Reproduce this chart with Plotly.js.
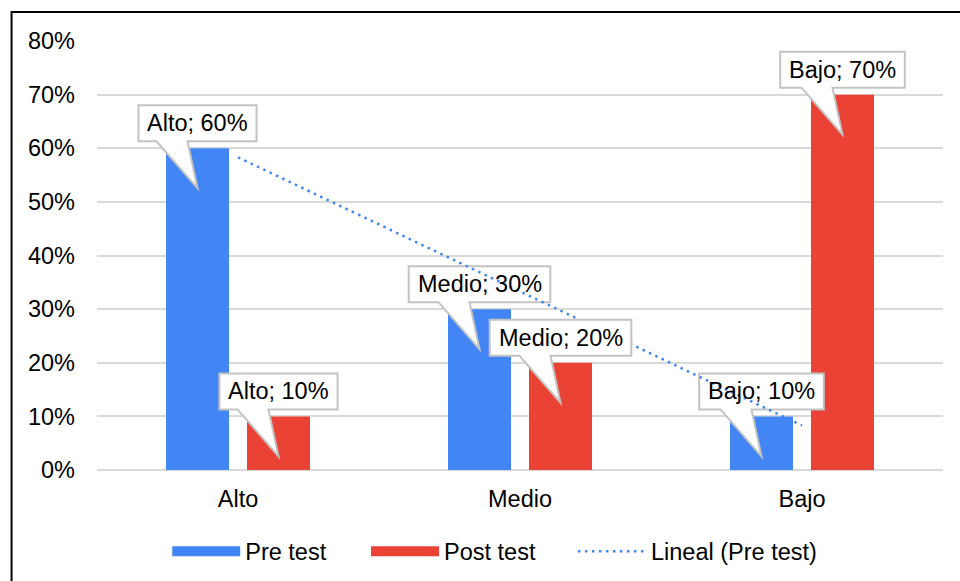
<!DOCTYPE html>
<html><head><meta charset="utf-8">
<script src="https://cdn.plot.ly/plotly-3.0.1.min.js"></script>
<style>html,body{margin:0;padding:0;background:#fff}#chart{width:960px;height:581px}</style>
</head><body><div id="chart"></div>
<script>
// ---- data ----
const categories = ['Alto', 'Medio', 'Bajo'];
const preTest = [0.60, 0.30, 0.10];
const postTest = [0.10, 0.20, 0.70];
const trendPre = [0.583, 0.333, 0.083];   // linear trend of Pre test
const seriesNames = ['Pre test', 'Post test', 'Lineal (Pre test)'];

// ---- styles ----
const BLUE = '#4285F4', RED = '#EA4335';
const FONT = 'Arial, "Liberation Sans", sans-serif';
const FS = 23.5;
const BARGAP = 0.4255, GROUPGAP = 0.222;
const OFF = (1 - BARGAP) / 4;
const xIdx = categories.map((c, i) => i);

const ctx = document.createElement('canvas').getContext('2d');
ctx.font = FS + 'px "Liberation Sans", Arial, sans-serif';
const tw = s => ctx.measureText(s).width;

const shapes = [];
const annotations = [];

// outer frame
shapes.push({type: 'rect', xref: 'paper', yref: 'paper', x0: -0.101, x1: 1.2, y0: -0.6, y1: 1.0676,
  line: {color: '#000', width: 2}, fillcolor: 'rgba(0,0,0,0)', layer: 'above'});

function callout(xc, v, text) {
  const h = (tw(text) + 17.5) / 2;
  const yb = 7, yt = 43, tipY = -40;
  const path = `M${-h},${yt} L${h},${yt} L${h},${yb} L-10,${yb} L0,${tipY} L-41,${yb} L${-h},${yb} Z`;
  shapes.push({type: 'path', xref: 'x', yref: 'y', xsizemode: 'pixel', ysizemode: 'pixel',
    xanchor: xc, yanchor: v, path: path, fillcolor: '#ffffff',
    line: {color: '#c3c3c3', width: 2}, layer: 'above'});
  annotations.push({x: xc, y: v, xref: 'x', yref: 'y', yshift: 25, text: text, showarrow: false,
    xanchor: 'center', yanchor: 'middle', font: {family: FONT, size: FS, color: '#000'}});
}
const pct = v => Math.round(v * 100) + '%';

preTest.forEach((v, i) => callout(xIdx[i] - OFF, v, categories[i] + '; ' + pct(v)));
shapes.push({type: 'line', xref: 'x', yref: 'y',
  x0: xIdx[0], y0: trendPre[0], x1: xIdx[xIdx.length - 1], y1: trendPre[trendPre.length - 1],
  line: {color: BLUE, width: 2.5, dash: '2.5px,4.5px'}, layer: 'above'});
postTest.forEach((v, i) => callout(xIdx[i] + OFF, v, categories[i] + '; ' + pct(v)));

const traces = [
  {type: 'bar', x: xIdx, y: preTest, name: seriesNames[0], marker: {color: BLUE}, showlegend: false, hoverinfo: 'y'},
  {type: 'bar', x: xIdx, y: postTest, name: seriesNames[1], marker: {color: RED}, showlegend: false, hoverinfo: 'y'},
  {type: 'scatter', mode: 'lines', x: [null], y: [null], name: seriesNames[0], legend: 'legend', line: {color: BLUE, width: 12.5}},
  {type: 'scatter', mode: 'lines', x: [null], y: [null], name: seriesNames[1], legend: 'legend2', line: {color: RED, width: 12.5}},
  {type: 'scatter', mode: 'lines', x: [null], y: [null], name: seriesNames[2], legend: 'legend3', line: {color: BLUE, width: 2.5, dash: '2.5px,4.5px'}}
];

const legendBase = {orientation: 'h', xanchor: 'left', y: -0.19, yanchor: 'middle', itemwidth: 68,
  font: {family: FONT, size: FS, color: '#000'}, bgcolor: 'rgba(0,0,0,0)'};

const layout = {
  width: 960, height: 581,
  margin: {l: 97, r: 17, t: 41, b: 111, autoexpand: false},
  paper_bgcolor: '#fff', plot_bgcolor: '#fff',
  font: {family: FONT, size: FS, color: '#000'},
  barmode: 'group', bargap: BARGAP, bargroupgap: GROUPGAP,
  xaxis: {range: [-0.5, 2.5], tickmode: 'array', tickvals: xIdx, ticktext: categories,
    showgrid: false, zeroline: false, showline: false, ticks: '', fixedrange: true,
    ticklabelstandoff: 12, tickfont: {family: FONT, size: FS, color: '#000'}},
  yaxis: {range: [0, 0.8], dtick: 0.1, tickformat: '.0%', showgrid: true, gridcolor: '#d9d9d9', gridwidth: 2,
    zeroline: true, zerolinecolor: '#d9d9d9', zerolinewidth: 2, showline: false, ticks: '',
    ticklabelstandoff: 21, fixedrange: true, tickfont: {family: FONT, size: FS, color: '#000'}},
  legend: Object.assign({}, legendBase, {x: 0.083}),
  legend2: Object.assign({}, legendBase, {x: 0.318}),
  legend3: Object.assign({}, legendBase, {x: 0.5626}),
  shapes: shapes,
  annotations: annotations,
  showlegend: true
};

Plotly.newPlot('chart', traces, layout, {displayModeBar: false, staticPlot: true});
</script>
</body></html>
